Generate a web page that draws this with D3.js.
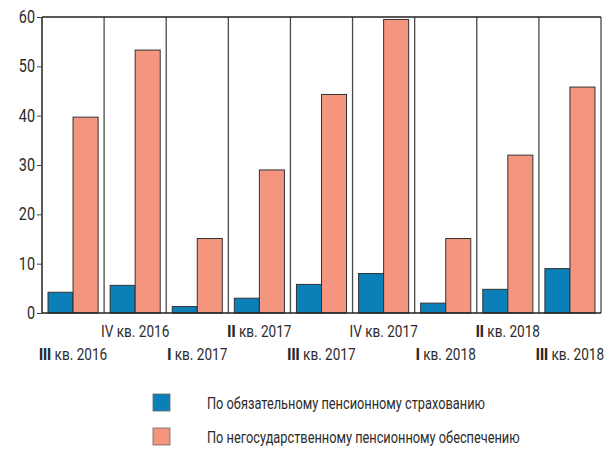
<!DOCTYPE html>
<html><head><meta charset="utf-8">
<script src="https://cdnjs.cloudflare.com/ajax/libs/d3/7.8.5/d3.min.js"></script>
<style>
body{margin:0;background:#fff;}
text{font-family:Roboto,"DejaVu Sans Condensed",sans-serif;fill:#2b2b2b;}
</style></head><body>
<svg id="c" width="610" height="456"></svg>
<script>
const numerals = ["III","IV","I","II","III","IV","I","II","III"];
const years = ["2016","2016","2017","2017","2017","2017","2018","2018","2018"];
const mandatory = [4.2,5.6,1.3,3.0,5.8,8.0,2.0,4.8,9.0];
const nonState = [39.7,53.3,15.1,29.0,44.3,59.5,15.1,32.0,45.8];
const seriesNames = ["По обязательному пенсионному страхованию","По негосударственному пенсионному обеспечению"];
const colors = ["#0a7fb8","#f4967f"];
const yTicks = [0,10,20,30,40,50,60];

const svg = d3.select("#c");
const m = {l:42,r:601,t:17,b:313};
const idx = d3.range(numerals.length);
const x = d3.scaleBand().domain(idx).range([m.l,m.r]).paddingInner(0).paddingOuter(0);
const inner = d3.scaleBand().domain([0,1]).range([0,x.bandwidth()]).paddingOuter(0.24).paddingInner(0);
const y = d3.scaleLinear().domain([0,60]).range([m.b,m.t]);

// separators
svg.append("g").selectAll("line").data(d3.range(numerals.length+1)).join("line")
  .attr("x1",d=>d<numerals.length?x(d):m.r).attr("x2",d=>d<numerals.length?x(d):m.r)
  .attr("y1",m.t).attr("y2",m.b)
  .attr("stroke",d=>d===0?"#222":"#4a4a4a").attr("stroke-width",d=>d===0?1.5:1.3);
// top border
svg.append("line").attr("x1",m.l).attr("x2",m.r).attr("y1",m.t).attr("y2",m.t)
  .attr("stroke","#222").attr("stroke-width",1.3);

// bars
const series = [mandatory, nonState];
series.forEach((vals,si)=>{
  svg.append("g").selectAll("rect").data(vals).join("rect")
    .attr("x",(d,i)=>x(i)+inner(si))
    .attr("width",inner.bandwidth())
    .attr("y",d=>y(d))
    .attr("height",d=>y(0)-y(d))
    .attr("fill",colors[si]).attr("stroke","#333").attr("stroke-width",1);
});

// baseline
svg.append("line").attr("x1",m.l).attr("x2",m.r).attr("y1",m.b).attr("y2",m.b)
  .attr("stroke","#222").attr("stroke-width",1.5);

// y axis ticks
const ya = svg.append("g").attr("transform",`translate(${m.l},0)`)
  .call(d3.axisLeft(y).tickValues(yTicks).tickSize(5).tickFormat(""));
ya.select(".domain").remove();
ya.selectAll("line").attr("stroke","#444");
svg.append("g").selectAll("text").data(yTicks).join("text")
  .attr("transform",d=>`translate(35,${y(d)+6}) scale(0.8,1)`)
  .attr("text-anchor","end").attr("font-size",18).text(d=>d);

// x labels
const xl = svg.append("g").selectAll("text").data(idx).join("text")
  .attr("transform",i=>`translate(${x(i)+x.bandwidth()/2},${i%2===0?360:337}) scale(0.8,1)`)
  .attr("text-anchor","middle").attr("font-size",17);
xl.append("tspan").attr("font-weight",i=>/^I+$/.test(numerals[i])?"900":"normal").text(i=>numerals[i]);
xl.append("tspan").text(i=>" кв. "+years[i]);

// legend
const lg = svg.append("g").selectAll("g").data(seriesNames).join("g")
  .attr("transform",(d,i)=>`translate(153,${394+i*34})`);
lg.append("rect").attr("width",17).attr("height",17).attr("fill",(d,i)=>colors[i]).attr("stroke","#666").attr("stroke-width",0.8);
lg.append("text").attr("transform","translate(54,15) scale(0.8,1)").attr("font-size",16).text(d=>d);
</script></body></html>
